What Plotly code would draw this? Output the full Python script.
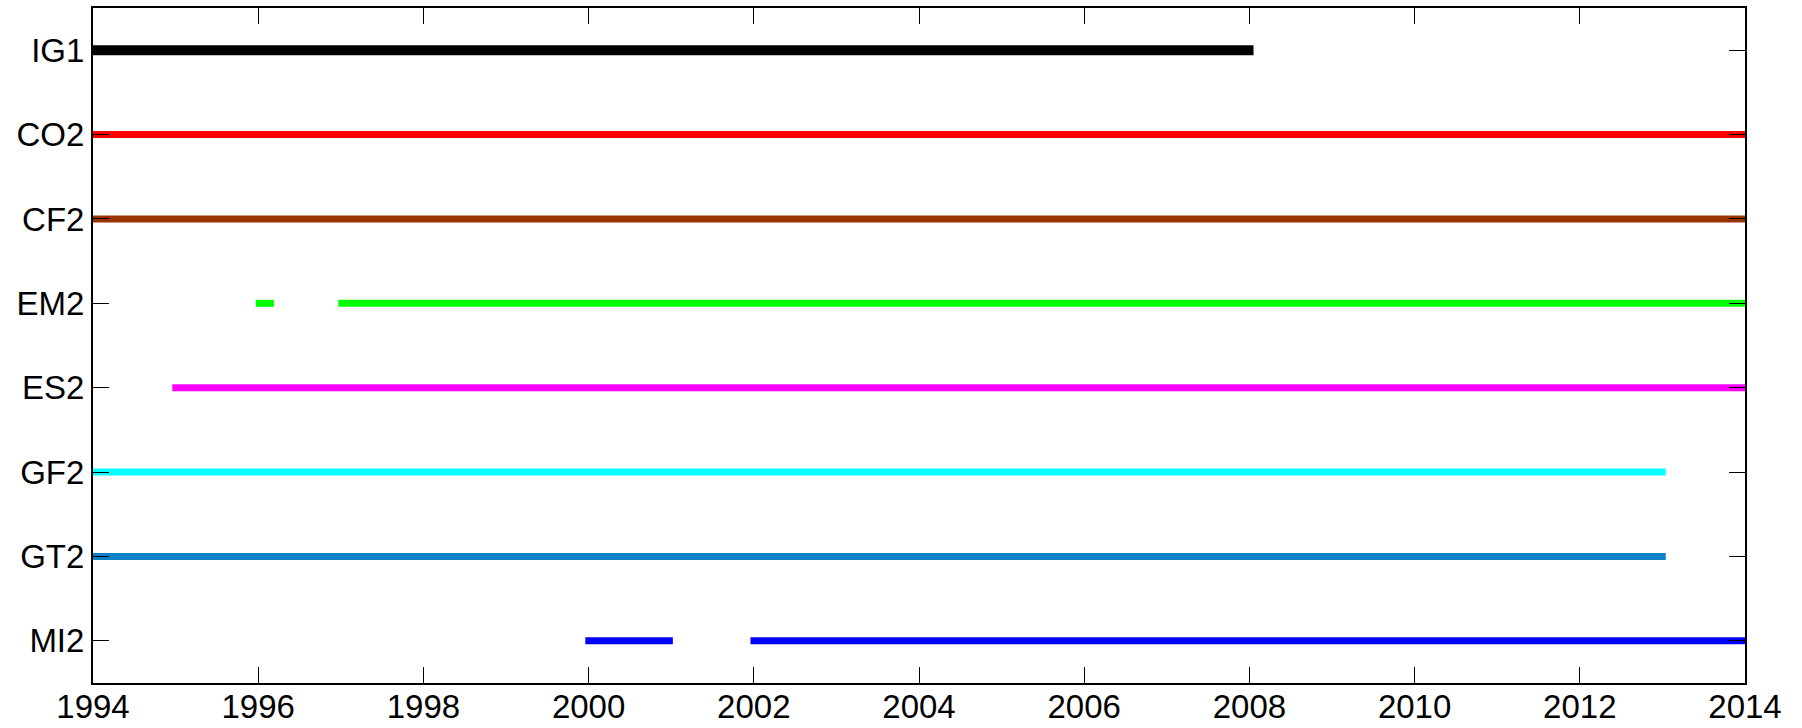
import plotly.graph_objects as go

# Categories from top to bottom
stations = ["IG1", "CO2", "CF2", "EM2", "ES2", "GF2", "GT2", "MI2"]
colors = ["#000000", "#ff0000", "#993300", "#00ff00", "#ff00ff", "#00ffff", "#0b80c8", "#0000ff"]
widths = [10, 7, 7, 7, 7, 7, 7, 7]

# Data coverage segments (start year, end year) per station
segments = {
    "IG1": [(1994.0, 2008.05)],
    "CO2": [(1994.0, 2014.0)],
    "CF2": [(1994.0, 2014.0)],
    "EM2": [(1995.97, 1996.19), (1996.97, 2014.0)],
    "ES2": [(1994.96, 2014.0)],
    "GF2": [(1994.0, 2013.04)],
    "GT2": [(1994.0, 2013.04)],
    "MI2": [(1999.96, 2001.02), (2001.96, 2014.0)],
}

x_ticks = list(range(1994, 2015, 2))

fig = go.Figure()
for name, col, w in zip(stations, colors, widths):
    xs, ys = [], []
    for s, e in segments[name]:
        xs += [s, e, None]
        ys += [name, name, None]
    fig.add_trace(go.Scatter(x=xs, y=ys, mode="lines",
                             line=dict(color=col, width=w),
                             showlegend=False, hoverinfo="skip"))

fig.update_layout(
    width=1802, height=728,
    margin=dict(l=93, r=57, t=8, b=45, autoexpand=False),
    paper_bgcolor="white", plot_bgcolor="white",
    font=dict(family="Liberation Sans, Arial, sans-serif", size=33, color="black"),
)
fig.update_xaxes(range=[1994, 2014], tickvals=x_ticks, ticktext=[str(t) for t in x_ticks],
                 ticks="inside", ticklen=16, tickwidth=1.2, tickcolor="black",
                 showline=True, linecolor="black", linewidth=2, mirror="allticks",
                 showgrid=False, zeroline=False, ticklabelstandoff=-7)
fig.update_yaxes(type="category", categoryorder="array", categoryarray=stations[::-1],
                 range=[-0.5, 7.5],
                 ticks="inside", ticklen=16, tickwidth=1.2, tickcolor="black",
                 showline=True, linecolor="black", linewidth=2, mirror="allticks",
                 showgrid=False, zeroline=False, ticklabelstandoff=0)

fig.write_html("out.html", config={"displayModeBar": False},
               post_script="document.body.style.margin='0';document.body.style.padding='0';")
